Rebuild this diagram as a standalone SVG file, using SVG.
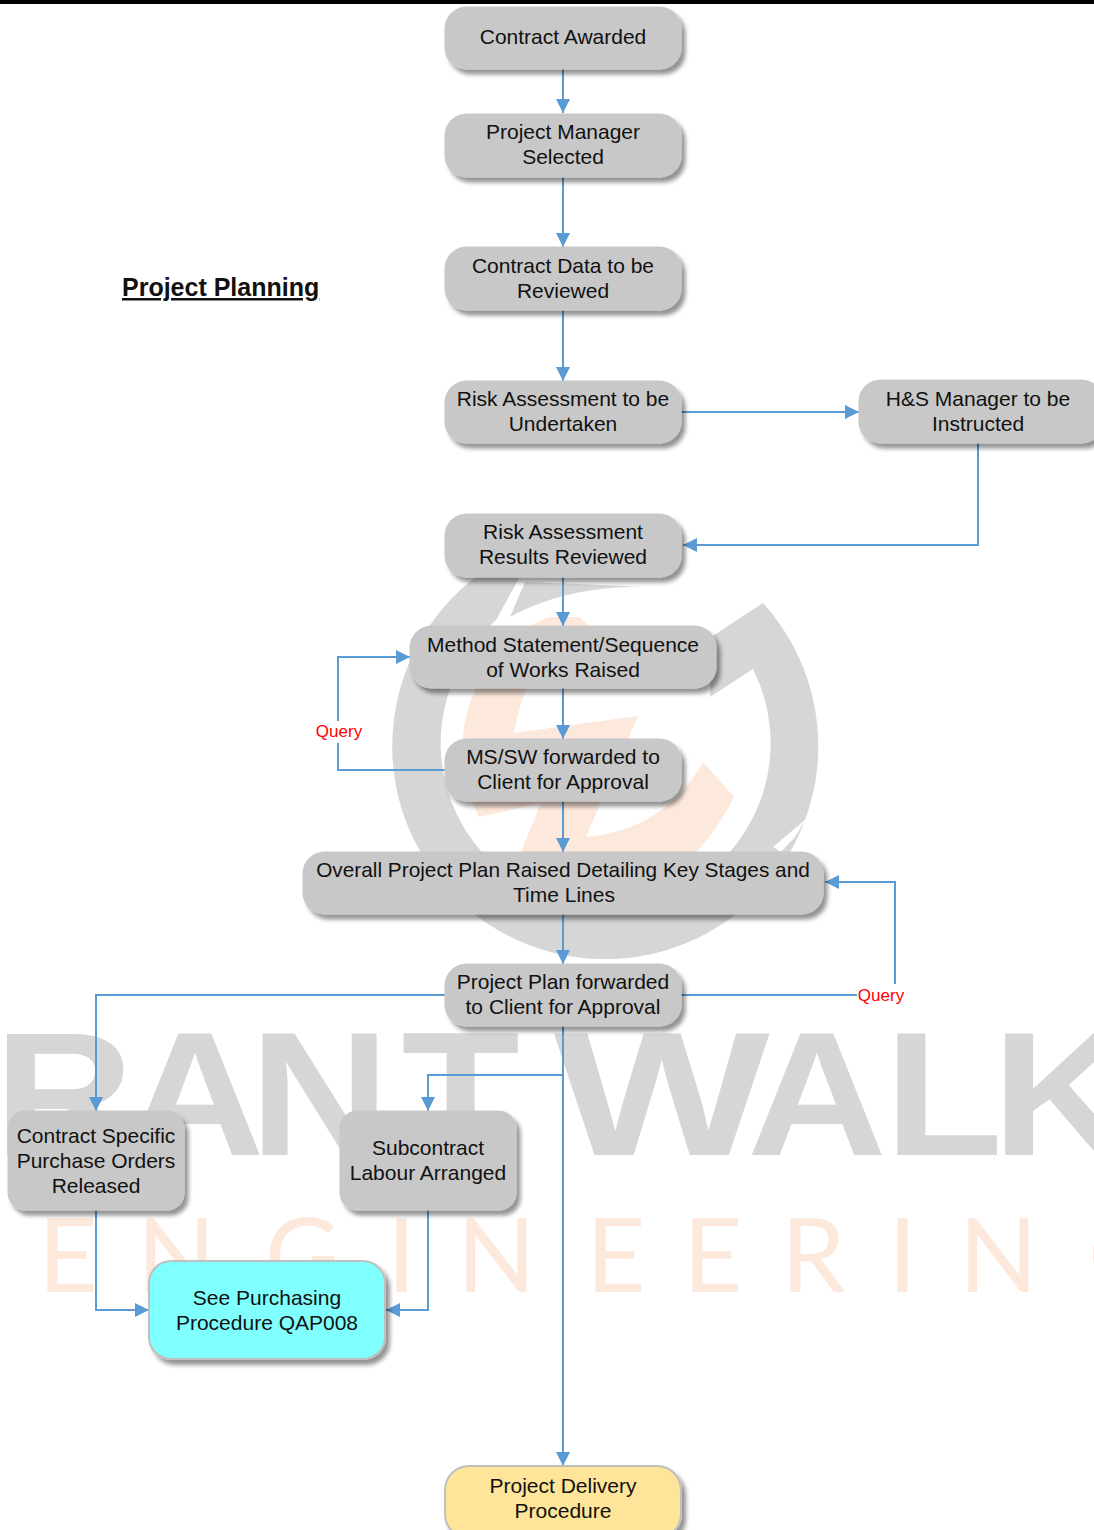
<svg xmlns="http://www.w3.org/2000/svg" width="1094" height="1530" viewBox="0 0 1094 1530">
<style>
text{font-family:"Liberation Sans",Arial,sans-serif}
.n{fill:#c8c8c8;filter:url(#sh)}
.nb{stroke:#bfbfbf;stroke-width:2;filter:url(#sh)}
.t{font-size:21px;text-anchor:middle;fill:#111}
.c{fill:none;stroke:#5b9bd5;stroke-width:2}
.a{marker-end:url(#ar)}
.q{font-size:17px;text-anchor:middle;fill:#ff0000}
.wg{fill:#d6d6d6}
.wo{fill:#fde8dc}
</style>
<defs>
<filter id="sh" x="-10%" y="-20%" width="125%" height="145%"><feDropShadow dx="4" dy="5" stdDeviation="2.2" flood-color="#000" flood-opacity="0.42"/></filter>
<marker id="ar" markerUnits="userSpaceOnUse" markerWidth="15" markerHeight="15" refX="14" refY="7" orient="auto"><path d="M0 0L14 7L0 14Z" fill="#5b9bd5"/></marker>
</defs>
<rect width="1094" height="1530" fill="#fff"/>
<rect id="topbar" width="1094" height="4" fill="#000"/>
<g id="watermark">
<g transform="translate(-2 -1)">
<path class="wg" d="M540 545A213 213 0 1 0 765 604L713 638L712 698L755 670A165 165 0 1 1 498 621Z"/>
<path d="M808 820L775 848L783 853L797 838Z" fill="#fff"/>
</g>
<path class="wg" d="M510 617L525 582L651 587C600 585 550 595 510 617Z"/>
<path class="wo" d="M548 617L580 617L600 640L541 657Q520 695 514 733L638 716L586 837Q665 830 703 762L734 797Q720 825 697 852L521 852L541 803L479 817A145 145 0 0 1 548 617Z"/>
<text class="wg" font-size="176" font-weight="700" y="1155" transform="scale(1.1 1)" x="-5.500 113.600 227 365">RANT</text>
<text class="wg" font-size="176" font-weight="700" y="1155" transform="scale(1.3 1)" x="426">W</text>
<text class="wg" font-size="176" font-weight="700" y="1155" transform="scale(1.1 1)" x="679 804 902">ALK</text>
<text class="wo" font-size="103" y="1292" x="38 137 265 387 457 586 683 781 888 959 1088" style="font-family:'Lato','Liberation Sans',sans-serif">ENGINEERING</text>
</g>
<text id="title" x="122" y="296" font-size="25" font-weight="700" text-decoration="underline" fill="#111">Project Planning</text>
<g id="connectors">
<path class="c a" d="M563 68V113"/>
<path class="c a" d="M563 176V247"/>
<path class="c a" d="M563 309V381"/>
<path class="c a" d="M680 412H859"/>
<path class="c a" d="M978 442V545H683"/>
<path class="c a" d="M563 576V626"/>
<path class="c a" d="M563 687V739"/>
<path class="c a" d="M563 800V852"/>
<path class="c a" d="M563 913V964"/>
<path class="c a" d="M563 1025V1466"/>
<path class="c a" d="M446 770H338V657H410"/>
<path class="c a" d="M446 995H96V1111"/>
<path class="c a" d="M680 995H895V882H825"/>
<path class="c a" d="M563 1075H428V1111"/>
<path class="c a" d="M96 1209V1310H149"/>
<path class="c a" d="M428 1209V1310H386"/>
<rect x="314" y="721" width="50" height="22" fill="#fff"/>
<rect x="857" y="984" width="50" height="22" fill="#fff"/>
<text class="q" x="339" y="737">Query</text>
<text class="q" x="881" y="1001">Query</text>
</g>
<g id="n1"><rect class="n" x="444.500" y="6.500" width="237" height="63" rx="22"/><text class="t" x="563" y="44">Contract Awarded</text></g>
<g id="n2"><rect class="n" x="444.500" y="113.500" width="237" height="64" rx="22"/><text class="t" x="563" y="139">Project Manager</text><text class="t" x="563" y="164">Selected</text></g>
<g id="n3"><rect class="n" x="444.500" y="246.500" width="237" height="64" rx="22"/><text class="t" x="563" y="273">Contract Data to be</text><text class="t" x="563" y="298">Reviewed</text></g>
<g id="n4"><rect class="n" x="444.500" y="380.500" width="237" height="63" rx="22"/><text class="t" x="563" y="406">Risk Assessment to be</text><text class="t" x="563" y="431">Undertaken</text></g>
<g id="n5"><rect class="n" x="858.500" y="379.500" width="245" height="64" rx="22"/><text class="t" x="978" y="406">H&amp;S Manager to be</text><text class="t" x="978" y="431">Instructed</text></g>
<g id="n6"><rect class="n" x="444.500" y="513.500" width="237" height="64" rx="22"/><text class="t" x="563" y="539">Risk Assessment</text><text class="t" x="563" y="564">Results Reviewed</text></g>
<g id="n7"><rect class="n" x="409.500" y="625.500" width="307" height="63" rx="22"/><text class="t" x="563" y="652">Method Statement/Sequence</text><text class="t" x="563" y="677">of Works Raised</text></g>
<g id="n8"><rect class="n" x="444.500" y="738.500" width="237" height="63" rx="22"/><text class="t" x="563" y="764">MS/SW forwarded to</text><text class="t" x="563" y="789">Client for Approval</text></g>
<g id="n9"><rect class="n" x="302.500" y="851.500" width="521" height="63" rx="22"/><text class="t" x="563" y="877" style="font-size:20.8px">Overall Project Plan Raised Detailing Key Stages and</text><text class="t" x="564" y="902">Time Lines</text></g>
<g id="n10"><rect class="n" x="444.500" y="963.500" width="237" height="63" rx="22"/><text class="t" x="563" y="989">Project Plan forwarded</text><text class="t" x="563" y="1014">to Client for Approval</text></g>
<g id="n11"><rect class="n" x="7.500" y="1110.500" width="177" height="100" rx="18"/><text class="t" x="96" y="1143">Contract Specific</text><text class="t" x="96" y="1168">Purchase Orders</text><text class="t" x="96" y="1193">Released</text></g>
<g id="n12"><rect class="n" x="339.500" y="1110.500" width="177" height="100" rx="18"/><text class="t" x="428" y="1155">Subcontract</text><text class="t" x="428" y="1180">Labour Arranged</text></g>
<g id="n13"><rect class="nb" x="149" y="1261" width="236" height="98" rx="22" fill="#80ffff"/><text class="t" x="267" y="1305">See Purchasing</text><text class="t" x="267" y="1330">Procedure QAP008</text></g>
<g id="n14"><rect class="nb" x="445" y="1466" width="236" height="72" rx="24" fill="#ffe599"/><text class="t" x="563" y="1493">Project Delivery</text><text class="t" x="563" y="1518">Procedure</text></g>
</svg>
